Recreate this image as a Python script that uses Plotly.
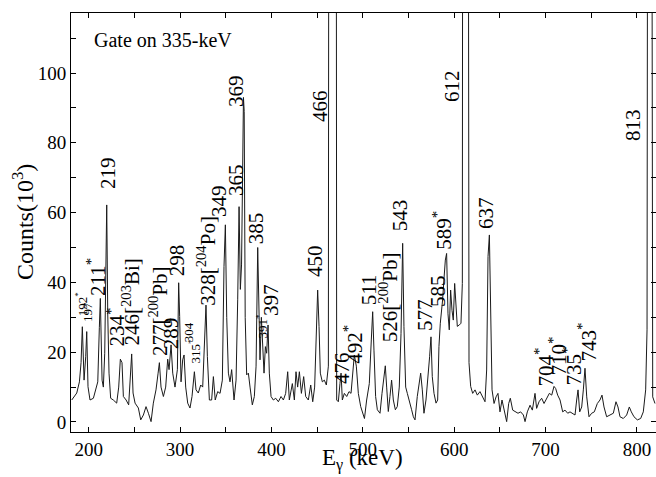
import plotly.graph_objects as go

# ---- spectrum data ----
energy_keV = [
    181.5, 184.0, 187.0, 189.9, 191.7, 193.1, 195.0, 196.8, 197.9, 199.3, 201.5, 205.2, 208.0, 210.0,
    211.7, 212.8, 214.7, 216.1, 217.6, 218.7, 219.8, 220.9, 222.3, 224.1, 227.0, 230.7, 232.9, 234.7,
    236.5, 238.0, 241.0, 243.8, 245.7, 247.1, 248.6, 250.8, 254.4, 257.0, 259.9, 262.8, 265.4, 268.3,
    270.8, 273.7, 276.0, 277.4, 279.2, 281.8, 284.3, 286.5, 288.0, 290.2, 292.0, 294.5, 297.1, 298.5,
    299.6, 301.1, 302.9, 304.4, 306.2, 308.4, 310.9, 313.1, 315.7, 317.5, 320.0, 322.6, 324.8, 327.0,
    328.4, 329.9, 332.1, 334.6, 336.5, 338.5, 341.2, 343.8, 346.3, 348.1, 349.6, 351.1, 352.9, 354.7,
    356.5, 359.1, 361.3, 363.1, 364.6, 366.0, 367.3, 368.5, 369.4, 370.2, 371.3, 372.9, 374.8, 376.6,
    379.1, 381.3, 383.2, 385.0, 386.4, 387.5, 389.0, 390.5, 391.9, 393.4, 394.8, 396.3, 397.7, 399.6,
    402.1, 404.7, 407.6, 410.5, 413.1, 415.6, 417.8, 419.6, 422.9, 425.1, 426.9, 428.7, 430.6, 432.8,
    435.3, 437.5, 440.4, 443.0, 445.2, 447.3, 449.2, 450.6, 452.1, 453.5, 455.7, 457.9, 460.1, 462.3,
    463.2, 470.6, 471.4, 473.2, 475.0, 476.2, 477.6, 479.8, 482.4, 484.9, 487.1, 488.9, 490.7, 492.9,
    495.1, 497.7, 500.6, 501.8, 504.2, 507.1, 509.3, 510.8, 512.2, 514.0, 515.9, 518.8, 521.0, 523.2,
    524.6, 526.1, 527.9, 529.7, 531.5, 533.4, 535.6, 537.7, 539.9, 541.8, 543.6, 545.0, 546.9, 548.7,
    550.9, 553.4, 555.3, 557.1, 559.6, 561.8, 563.3, 565.1, 566.9, 569.1, 571.3, 573.1, 574.6, 576.0,
    577.9, 580.1, 581.9, 583.3, 584.8, 585.9, 587.3, 588.8, 590.3, 591.7, 593.2, 594.6, 596.1, 597.6,
    599.0, 600.5, 601.9, 603.4, 605.6, 607.4, 608.9, 609.6, 614.8, 615.5, 616.2, 618.0, 620.2, 622.8,
    625.3, 628.2, 631.2, 633.7, 635.5, 637.0, 638.5, 639.9, 641.4, 643.6, 645.8, 647.9, 650.1, 652.3,
    654.5, 657.4, 659.6, 661.4, 664.0, 666.9, 669.8, 672.7, 675.7, 677.5, 680.0, 683.0, 685.5, 688.4,
    690.2, 692.8, 695.7, 698.3, 701.2, 704.1, 706.7, 709.2, 711.0, 713.2, 715.8, 718.7, 721.2, 724.2,
    726.7, 729.6, 732.2, 734.0, 735.5, 737.3, 739.5, 741.3, 743.1, 745.0, 747.5, 750.4, 753.3, 756.6,
    759.5, 761.7, 763.9, 766.8, 770.5, 774.1, 777.0, 779.2, 781.4, 785.0, 788.7, 791.6, 793.8, 796.7,
    800.4, 804.0, 806.9, 809.5, 811.0, 812.2, 815.5, 817.2, 819.7,
]
counts_k = [
    6.3, 7.3, 8.3, 11.5, 17.0, 27.3, 12.0, 18.7, 25.9, 10.1, 6.3, 6.8, 10.0, 11.5,
    27.0, 35.4, 12.0, 10.0, 19.7, 42.0, 62.2, 31.0, 14.0, 6.8, 6.3, 5.4, 10.0, 18.0,
    17.0, 7.3, 6.3, 4.9, 12.0, 19.5, 8.3, 5.4, 4.0, 0.6, 2.0, 4.4, 2.5, 0.1,
    5.4, 9.2, 14.0, 17.0, 10.0, 7.3, 10.0, 18.0, 15.0, 22.1, 14.0, 10.0, 15.0, 39.9,
    30.2, 11.5, 17.8, 19.2, 10.0, 5.4, 4.0, 7.3, 14.4, 9.2, 8.3, 10.6, 10.0, 22.5,
    33.5, 18.8, 6.3, 6.3, 13.0, 6.3, 8.7, 8.2, 12.0, 44.5, 56.5, 30.0, 14.0, 11.5,
    15.0, 6.3, 12.0, 35.0, 61.7, 38.0, 45.0, 72.0, 93.0, 89.0, 30.0, 13.5, 14.0, 10.0,
    4.9, 7.3, 16.0, 50.0, 25.4, 17.8, 30.0, 19.0, 14.0, 21.6, 19.7, 27.8, 14.0, 7.3,
    6.3, 6.8, 5.8, 7.3, 6.3, 8.2, 14.4, 6.3, 11.0, 6.3, 14.4, 10.0, 14.4, 8.2,
    13.0, 7.3, 6.3, 10.6, 5.8, 10.0, 23.5, 37.8, 27.4, 14.0, 11.5, 12.0, 10.6, 16.0,
    300.0, 300.0, 6.3, 5.8, 11.0, 14.0, 6.3, 8.2, 7.3, 8.7, 8.2, 13.0, 19.2, 16.0,
    8.2, 4.4, 1.5, 1.0, 6.3, 11.0, 23.5, 31.6, 20.6, 7.3, 3.5, 2.5, 8.2, 14.0,
    16.1, 10.0, 3.0, 7.3, 12.0, 6.3, 3.5, 4.4, 10.0, 25.4, 51.2, 27.3, 10.0, 8.2,
    6.3, 3.5, 1.5, 0.6, 7.3, 12.0, 14.0, 9.2, 2.5, 6.3, 12.0, 18.7, 24.4, 13.0,
    8.2, 5.4, 6.3, 21.6, 28.3, 30.7, 35.0, 41.0, 46.4, 48.3, 31.0, 26.4, 37.8, 32.0,
    29.2, 39.7, 32.0, 27.4, 27.8, 28.3, 39.7, 300.0, 300.0, 63.0, 17.0, 10.2, 8.2, 9.2,
    7.7, 8.7, 7.2, 5.8, 14.9, 47.4, 53.6, 31.2, 9.2, 5.3, 7.2, 8.2, 2.9, 6.3,
    3.4, 0.1, 5.3, 6.8, 3.4, 2.9, 2.5, 2.9, 2.0, 0.1, 2.9, 4.8, 3.4, 8.2,
    3.9, 5.8, 6.8, 5.3, 6.8, 8.2, 7.7, 10.2, 9.6, 7.7, 6.3, 2.9, 3.4, 2.5,
    2.9, 2.5, 2.0, 6.3, 9.2, 2.9, 4.3, 9.2, 15.4, 7.2, 1.5, 2.5, 2.9, 5.3,
    6.3, 7.7, 4.3, 1.5, 2.0, 2.5, 5.8, 4.3, 1.5, 1.0, 2.0, 4.3, 2.9, 1.5,
    0.6, 1.0, 2.9, 9.2, 26.4, 300.0, 300.0, 7.2, 5.3,
]

# ---- peak labels ----
label_text = [
    "192<sup>*</sup>", "197", "211<sup>*</sup>", "219", "234<sup>*</sup>", "246[<sup>203</sup>Bi]",
    "277[<sup>200</sup>Pb]", "289", "298", "304", "315<sup>*</sup>", "328[<sup>204</sup>Po]",
    "349", "365", "369", "385", "391<sup>*</sup>", "397", "450", "466", "476", "492<sup>*</sup>",
    "511", "526[<sup>200</sup>Pb]", "543", "577", "585", "589<sup>*</sup>", "612", "637",
    "704<sup>*</sup>", "710<sup>*</sup>", "735<sup>*</sup>", "743<sup>*</sup>", "813",
]
label_x = [
    192.6, 199.5, 208.1, 221.2, 230.0, 246.4, 275.9, 290.2, 296.7, 308.8, 315.3, 329.5,
    342.7, 361.3, 361.3, 383.2, 389.7, 399.6, 447.7, 453.2, 477.2, 490.4, 506.8, 527.6,
    540.7, 568.0, 582.3, 587.0, 597.6, 634.8, 699.3, 713.6, 730.0, 746.4, 795.6,
]
label_y = [
    30.1, 28.4, 35.8, 66.5, 21.2, 21.5, 18.6, 20.6, 41.5, 22.6, 16.3, 33.0,
    58.5, 64.5, 90.0, 50.7, 23.5, 30.1, 41.3, 85.7, 10.6, 16.3, 33.0, 22.6,
    54.4, 25.8, 32.7, 49.0, 91.4, 55.0, 10.0, 12.9, 10.0, 16.9, 80.2,
]
small_labels = {"192<sup>*</sup>", "197", "304", "315<sup>*</sup>", "391<sup>*</sup>"}

x_ticks = [200, 300, 400, 500, 600, 700, 800]
y_ticks = [0, 20, 40, 60, 80, 100]

SERIF = "Liberation Serif, Times New Roman, serif"

fig = go.Figure()
fig.add_trace(go.Scatter(
    x=energy_keV, y=counts_k, mode="lines",
    line=dict(color="#1a1a1a", width=1), hoverinfo="skip", showlegend=False,
))

annotations = []
for t, x, y in zip(label_text, label_x, label_y):
    annotations.append(dict(
        x=x, y=y, xref="x", yref="y", text=t, showarrow=False, textangle=-90,
        xanchor="center", yanchor="bottom", borderpad=0,
        font=dict(family=SERIF, size=13 if t in small_labels else 21, color="black"),
    ))

annotations.append(dict(
    x=0.036, y=0.9356, xref="paper", yref="paper", text="Gate on 335-keV",
    showarrow=False, xanchor="left", yanchor="middle",
    font=dict(family=SERIF, size=20, color="black"),
))
annotations.append(dict(
    x=-0.082, y=0.501, xref="paper", yref="paper", text="Counts(10<sup>3</sup>)",
    showarrow=False, textangle=-90, xanchor="center", yanchor="middle",
    font=dict(family=SERIF, size=24, color="black"),
))
annotations.append(dict(
    x=0.499, y=-0.102, xref="paper", yref="paper", text="E<sub>γ</sub> (keV)",
    showarrow=False, xanchor="center", yanchor="bottom", borderpad=0,
    font=dict(family=SERIF, size=23, color="black"),
))

axis_common = dict(
    showline=True, linecolor="black", linewidth=1, mirror="ticks",
    ticks="inside", ticklen=5, tickcolor="black", tickwidth=1,
    showgrid=False, zeroline=False,
    tickfont=dict(family=SERIF, size=19, color="black"),
)

fig.update_layout(
    width=656, height=477,
    margin=dict(l=71, r=0, t=13, b=45),
    paper_bgcolor="white", plot_bgcolor="white",
    annotations=annotations,
    xaxis=dict(range=[180.7, 820.8], tickvals=x_ticks,
               minor=dict(ticks="inside", ticklen=5, dtick=50, tick0=0, tickcolor="black"),
               **axis_common),
    yaxis=dict(range=[-2.87, 117.2], tickvals=y_ticks,
               minor=dict(ticks="inside", ticklen=5, dtick=10, tick0=0, tickcolor="black"),
               **axis_common),
)

fig.write_html("out.html", config={"displayModeBar": False},
               post_script="document.body.style.margin='0px';")
